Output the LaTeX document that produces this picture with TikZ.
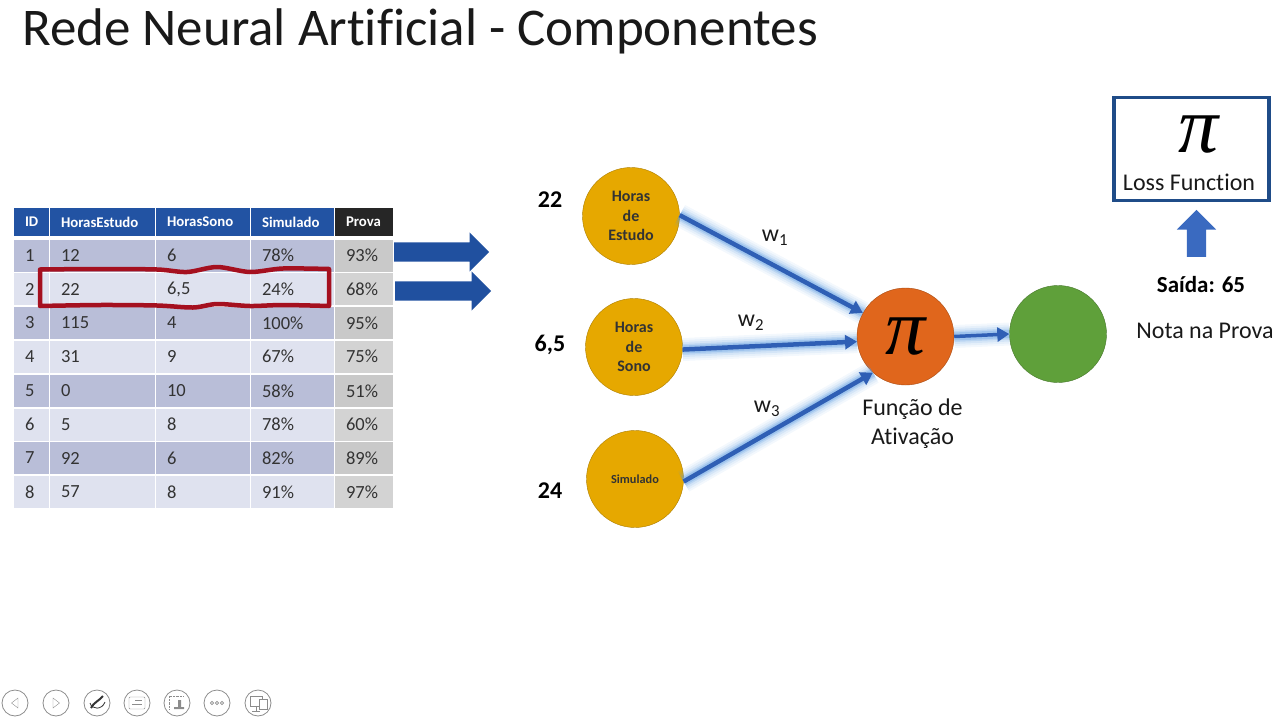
\documentclass[tikz,border=0pt]{standalone}
\usepackage{fontspec}
\setmainfont[Ligatures=NoCommon]{Carlito}
\newfontfamily\pifont{Liberation Serif}
\usetikzlibrary{arrows.meta,shapes.arrows}
\newcommand{\bigpi}{{\fontsize{80}{80}\pifont\itshape π}}
\definecolor{headblue}{HTML}{2253A3}
\definecolor{rowdark}{HTML}{B9BED8}
\definecolor{rowlight}{HTML}{DFE2EF}
\definecolor{provadark}{HTML}{C9C9C9}
\definecolor{provalight}{HTML}{D3D3D3}
\definecolor{celltext}{HTML}{333333}
\definecolor{bandred}{HTML}{A5101F}
\definecolor{arrowblue}{HTML}{20509F}
\definecolor{edgeblue}{HTML}{2F5FB5}
\definecolor{upblue}{HTML}{3A6AC0}
\definecolor{boxblue}{HTML}{1F4C88}
\definecolor{glowblue}{HTML}{5B9BE0}
\definecolor{inputyellow}{HTML}{E6A800}
\definecolor{activorange}{HTML}{E0661C}
\definecolor{outgreen}{HTML}{5FA03A}
\definecolor{navgray}{HTML}{8C8C8C}
\tikzset{
    cell/.style={inner xsep=11pt,inner ysep=0pt,align=left,text=celltext,font=\fontsize{18.5}{20}\selectfont},
    head/.style={cell,text=white,font=\fontsize{14.8}{16}\selectfont\bfseries,minimum height=28pt,fill=headblue},
    dark/.style={cell,minimum height=32pt,fill=rowdark},
    light/.style={cell,minimum height=32pt,fill=rowlight},
    colid/.style={minimum width=35pt,text width=13pt},
    colestudo/.style={minimum width=105pt,text width=83pt},
    colsono/.style={minimum width=94pt,text width=72pt},
    colsimulado/.style={minimum width=83pt,text width=61pt},
    colprova/.style={minimum width=58pt,text width=36pt},
    provad/.style={dark,fill=provadark},
    proval/.style={light,fill=provalight},
    blockarrow/.style={single arrow,single arrow head extend=10pt,inner xsep=0pt,inner ysep=9.5pt,single arrow tip angle=90,draw=none,anchor=tail},
    neuron/.style={circle,minimum size=97pt,inner sep=0pt,align=center},
    inputneuron/.style={neuron,fill=inputyellow,draw=inputyellow!75!black,text=black!80,font=\fontsize{16}{19.5}\selectfont\bfseries},
    synapse/.style={draw=edgeblue,line width=4.5pt,-{Triangle[length=12pt,width=14pt]},
        preaction={draw=glowblue,line width=23pt,opacity=.07,-},
        preaction={draw=glowblue,line width=19pt,opacity=.09,-},
        preaction={draw=glowblue,line width=15pt,opacity=.13,-},
        preaction={draw=glowblue,line width=11pt,opacity=.20,-},
        preaction={draw=glowblue,line width=8pt,opacity=.30,-}},
    label/.style={text=black!90,font=\fontsize{24}{29}\selectfont,align=center,inner sep=0pt},
    value/.style={text=black,font=\fontsize{24}{26}\selectfont\bfseries,inner sep=0pt},
    navbutton/.style={circle,draw=navgray,line width=.8pt,minimum size=26pt,inner sep=0pt}
}
\begin{document}
\begin{tikzpicture}[x=1pt,y=-1pt]
    \useasboundingbox (0,0) rectangle (1280,720);
    \node[text=black!90,font=\fontsize{53}{60}\selectfont,anchor=west,inner sep=0pt] (titulo) at (22,31) {Rede Neural Artificial - Componentes};

    \node[head,colid] (idh) at (31.5,222) {ID};
    \node[head,colestudo] (estudoh) at (102.5,222) {HorasEstudo};
    \node[head,colsono] (sonoh) at (203,222) {HorasSono};
    \node[head,colsimulado] (simuladoh) at (292.5,222) {Simulado};
    \node[head,colprova,fill=black!85] (provah) at (364,222) {Prova};

    \node[dark,colid] (id1) at (31.5,255.5) {1};
    \node[dark,colestudo] (estudo1) at (102.5,255.5) {12};
    \node[dark,colsono] (sono1) at (203,255.5) {6};
    \node[dark,colsimulado] (simulado1) at (292.5,255.5) {78\%};
    \node[provad,colprova] (prova1) at (364,255.5) {93\%};

    \node[light,colid] (id2) at (31.5,289) {2};
    \node[light,colestudo] (estudo2) at (102.5,289) {22};
    \node[light,colsono] (sono2) at (203,289) {6,5};
    \node[light,colsimulado] (simulado2) at (292.5,289) {24\%};
    \node[proval,colprova] (prova2) at (364,289) {68\%};

    \node[dark,colid] (id3) at (31.5,323) {3};
    \node[dark,colestudo] (estudo3) at (102.5,323) {115};
    \node[dark,colsono] (sono3) at (203,323) {4};
    \node[dark,colsimulado] (simulado3) at (292.5,323) {100\%};
    \node[provad,colprova] (prova3) at (364,323) {95\%};

    \node[light,colid] (id4) at (31.5,356.5) {4};
    \node[light,colestudo] (estudo4) at (102.5,356.5) {31};
    \node[light,colsono] (sono4) at (203,356.5) {9};
    \node[light,colsimulado] (simulado4) at (292.5,356.5) {67\%};
    \node[proval,colprova] (prova4) at (364,356.5) {75\%};

    \node[dark,colid] (id5) at (31.5,391) {5};
    \node[dark,colestudo] (estudo5) at (102.5,391) {0};
    \node[dark,colsono] (sono5) at (203,391) {10};
    \node[dark,colsimulado] (simulado5) at (292.5,391) {58\%};
    \node[provad,colprova] (prova5) at (364,391) {51\%};

    \node[light,colid] (id6) at (31.5,424.5) {6};
    \node[light,colestudo] (estudo6) at (102.5,424.5) {5};
    \node[light,colsono] (sono6) at (203,424.5) {8};
    \node[light,colsimulado] (simulado6) at (292.5,424.5) {78\%};
    \node[proval,colprova] (prova6) at (364,424.5) {60\%};

    \node[dark,colid] (id7) at (31.5,458) {7};
    \node[dark,colestudo] (estudo7) at (102.5,458) {92};
    \node[dark,colsono] (sono7) at (203,458) {6};
    \node[dark,colsimulado] (simulado7) at (292.5,458) {82\%};
    \node[provad,colprova] (prova7) at (364,458) {89\%};

    \node[light,colid] (id8) at (31.5,492) {8};
    \node[light,colestudo] (estudo8) at (102.5,492) {57};
    \node[light,colsono] (sono8) at (203,492) {8};
    \node[light,colsimulado] (simulado8) at (292.5,492) {91\%};
    \node[proval,colprova] (prova8) at (364,492) {97\%};

    \draw[bandred,line width=4.5pt,line join=round] plot[smooth,tension=.5] coordinates {(40,269.5) (100,269) (157,269.5) (187,272) (217,267) (250,272) (283,268.5) (329,269)}
        -- plot[smooth,tension=.5] coordinates {(329,306) (283,305) (250,306) (217,304) (193,307.5) (157,305.5) (100,305) (40,306)} -- cycle;

    \node[blockarrow,fill=arrowblue,minimum height=95pt] (seta1) at (394,252) {};
    \node[blockarrow,fill=arrowblue,minimum height=96pt] (seta2) at (395,291) {};

    \node[inputneuron] (horasestudo) at (631,216) {Horas\\de\\Estudo};
    \node[inputneuron] (horassono) at (634,347) {Horas\\de\\Sono};
    \node[inputneuron,font=\fontsize{12.3}{14}\selectfont\bfseries] (simulado) at (635,479) {Simulado};
    \node[neuron,fill=activorange,draw=activorange!75!black,text=black] (ativacao) at (905.5,336.5) {\bigpi};
    \node[neuron,fill=outgreen,draw=outgreen!75!black] (saida) at (1058,334) {};

    \node[value] (val1) at (550,200) {22};
    \node[value] (val2) at (550,345) {6,5};
    \node[value] (val3) at (550,491) {24};

    \draw[synapse] (horasestudo.1) -- (ativacao.151);
    \draw[synapse] (horassono.-3) -- (ativacao.186);
    \draw[synapse] (simulado.-3) -- (ativacao.228);
    \draw[synapse,line width=3.5pt] (ativacao.east) -- (saida.west);

    \node[label] (w1) at (775,238) {w\textsubscript{1}};
    \node[label] (w2) at (751,323) {w\textsubscript{2}};
    \node[label] (w3) at (767,409) {w\textsubscript{3}};
    \node[label] (funcao) at (912.5,424) {Função de\\Ativação};

    \node[draw=boxblue,line width=3.5pt,minimum width=155pt,minimum height=103pt,inner sep=0pt] (loss) at (1191.5,149) {};
    \node[inner sep=0pt,text=black] (losspi) at (1199,135) {\bigpi};
    \node[label] (losstxt) at (1189,182) {Loss Function};
    \node[blockarrow,fill=upblue,minimum height=47pt,shape border rotate=90,inner xsep=9.5pt,inner ysep=0pt] (setaup) at (1196.5,257) {};
    \node[value,font=\fontsize{23}{26}\selectfont\bfseries] (saidatxt) at (1201,285) {Saída: 65};
    \node[label] (nota) at (1205,331) {Nota na Prova};

    \node[navbutton] (nav1) at (15,703) {};
    \node[navbutton] (nav2) at (56,703) {};
    \node[navbutton] (nav3) at (97,703) {};
    \node[navbutton] (nav4) at (137,703) {};
    \node[navbutton] (nav5) at (177,703) {};
    \node[navbutton] (nav6) at (217,703) {};
    \node[navbutton] (nav7) at (258,703) {};
    \draw[navgray] (18,698) -- (11.5,703) -- (18,708) -- cycle;
    \draw[navgray] (53,698) -- (59.5,703) -- (53,708) -- cycle;
    \draw[black!80,line width=2pt] (91,708) .. controls (94,702) and (99,701) .. (103,696);
    \draw[black!80,line width=.8pt] (90,703) .. controls (92,710) and (102,710) .. (105,702);
    \draw[navgray,rounded corners=1pt] (129,697) rectangle (145,709);
    \draw[navgray] (132,704) -- (142,704) (135,700.5) -- (142,700.5);
    \draw[navgray,densely dotted] (169,709) -- (169,696) -- (183,696);
    \fill[navgray] (174,707) rectangle (184,709) (178,700) rectangle (181,707);
    \draw[navgray,line width=.6pt] (212,703) circle (1.6pt) (217,703) circle (1.6pt) (222,703) circle (1.6pt);
    \draw[navgray] (250,696) rectangle (262,706) (256,706) -- (256,711) (252,711) -- (260,711);
    \draw[navgray,fill=white] (259,699) rectangle (267,709);
\end{tikzpicture}
\end{document}
